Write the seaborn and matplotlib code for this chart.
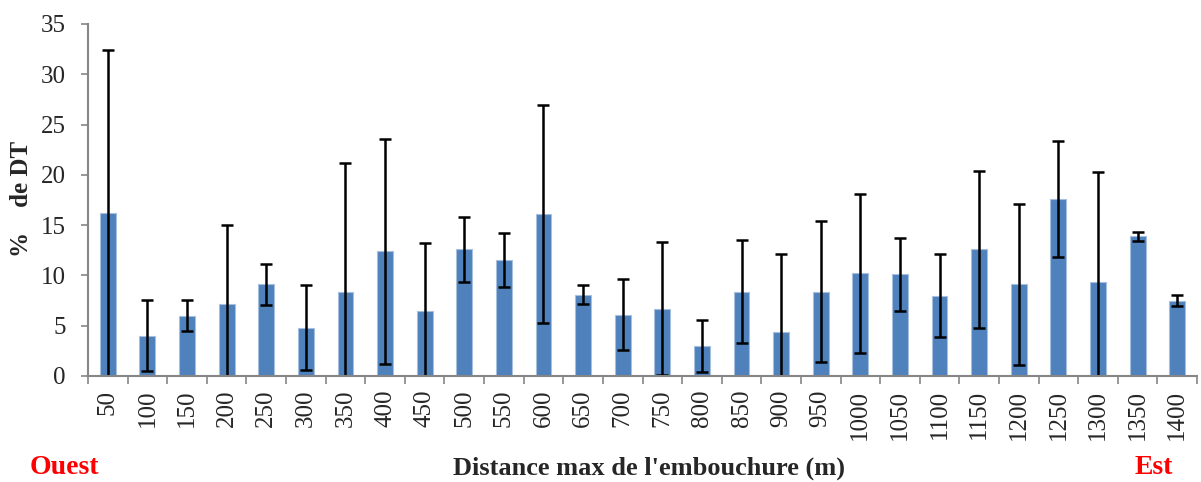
import matplotlib
matplotlib.use("Agg")
import matplotlib.pyplot as plt
import numpy as np
import pandas as pd
import seaborn as sns

# Distance classes (m) from the river mouth, west to east
distances = [50, 100, 150, 200, 250, 300, 350, 400, 450, 500, 550, 600, 650, 700,
             750, 800, 850, 900, 950, 1000, 1050, 1100, 1150, 1200, 1250, 1300, 1350, 1400]
# Mean share of DT (%) per class
mean_pct = [16.2, 4.0, 6.0, 7.2, 9.1, 4.8, 8.4, 12.4, 6.5, 12.6, 11.5, 16.1, 8.1, 6.1,
            6.7, 3.0, 8.4, 4.4, 8.4, 10.2, 10.1, 8.0, 12.6, 9.1, 17.6, 9.3, 13.9, 7.5]
# Standard deviation per class
sd_pct = [16.2, 3.55, 1.55, 7.85, 2.0, 4.2, 12.75, 11.2, 6.75, 3.25, 2.7, 10.8, 0.9, 3.55,
          6.6, 2.6, 5.15, 7.7, 7.05, 7.9, 3.65, 4.1, 7.8, 8.0, 5.75, 11.0, 0.45, 0.55]

df = pd.DataFrame({"distance": [str(d) for d in distances],
                   "pct": mean_pct, "sd": sd_pct})

sns.set_style("white")
plt.rcParams["font.family"] = ["Liberation Serif", "DejaVu Serif"]

fig = plt.figure(figsize=(12.01, 4.82), dpi=100)
ax = fig.add_axes([88 / 1201, 1 - 376 / 482, (1197 - 88) / 1201, (376 - 24) / 482])

sns.barplot(data=df, x="distance", y="pct", color="#4F81BD", saturation=1,
            width=0.4, errorbar=None, edgecolor="#A7BFDE", linewidth=0.8, ax=ax)

ax.errorbar(np.arange(len(df)), df["pct"], yerr=df["sd"], fmt="none",
            ecolor="black", elinewidth=1.8, capsize=4.5, capthick=1.8)

ax.set_ylim(0, 35)
ax.set_xlim(-0.5, len(df) - 0.5)
ax.set_yticks(np.arange(0, 36, 5))
ax.tick_params(axis="y", labelsize=18, length=5, width=1.2, color="#868686",
               direction="out", left=True, pad=11)

# Category ticks sit between bars; labels read bottom to top
ax.set_xticks(np.arange(len(df)))
ax.set_xticklabels(df["distance"], rotation=90, fontsize=18)
ax.tick_params(axis="x", which="major", length=0, pad=10)
ax.set_xticks(np.arange(-0.5, len(df)), minor=True)
ax.tick_params(axis="x", which="minor", length=6, width=1.2, color="#868686",
               direction="out", bottom=True)

for side in ("top", "right"):
    ax.spines[side].set_visible(False)
for side in ("left", "bottom"):
    ax.spines[side].set_color("#868686")
    ax.spines[side].set_linewidth(1.5)

ax.set_xlabel("")
ax.set_ylabel("")
fig.text(22 / 1201, 1 - 199 / 482, "%    de DT", rotation=90, ha="center", va="center",
         fontsize=18, fontweight="bold")

fig.text(649 / 1201, 1 - 468 / 482, "Distance max de l'embouchure (m)",
         ha="center", va="center", fontsize=19, fontweight="bold")
fig.text(30 / 1201, 1 - 467 / 482, "Ouest", ha="left", va="center",
         fontsize=20, fontweight="bold", color="red")
fig.text(1135 / 1201, 1 - 467 / 482, "Est", ha="left", va="center",
         fontsize=20, fontweight="bold", color="red")

fig.savefig("out.png", dpi=100)
